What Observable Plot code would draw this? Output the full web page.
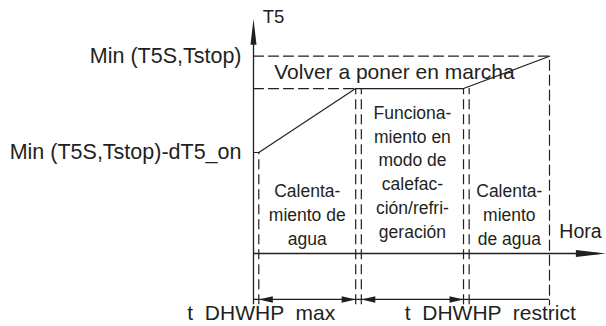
<!DOCTYPE html>
<html><head><meta charset="utf-8">
<script src="https://cdn.jsdelivr.net/npm/d3@7"></script>
<script src="https://cdn.jsdelivr.net/npm/@observablehq/plot@0.6"></script>
<style>
  html,body{margin:0;padding:0;background:#fff}
  svg{display:block}
  svg text{white-space:pre}
</style>
</head><body><div id="chart"></div>
<script>
// ---- time marks along the "Hora" axis (schematic units) ----
const tOrigin = 0;
const tStart = 0.75;               // start of water heating
const tMaxEnd = [14.5, 15.3];      // end of t DHWHP max (double line)
const tRestrictEnd = [29.8, 30.6]; // end of t DHWHP restrict (double line)
const tEnd = 42;                   // end of second water heating
const tAxisEnd = 50;               // tip of time axis

// ---- T5 levels (schematic units) ----
const levelNames = ["Min (T5S,Tstop)-dT5_on", "Min (T5S,Tstop)"];
const levelValues = [5.12, 10];
const levelRestart = 8.36;         // "Volver a poner en marcha" level
const yAxisTop = 11.9;
const dimLevel = -2.33;
const bottomLevel = -2.6;

// ---- T5 curve ----
const curveTimes  = [0, 0.75, 14.5, 29.8, 42];
const curveValues = [5.12, 5.12, 8.36, 8.36, 10];

// ---- texts ----
const axisTitleY = "T5";
const axisTitleX = "Hora";
const restartLabel = "Volver a poner en marcha";
const phaseLabels = [
  "Calenta-\nmiento de\nagua",
  "Funciona-\nmiento en\nmodo de\ncalefac-\nción/refri-\ngeración",
  "Calenta-\nmiento\nde agua"
];
const durationLabels = ["t  DHWHP  max", "t  DHWHP  restrict"];

const ink = "#231f20";
const dash = "10,5";
const headShape = {
  draw(context, l, r) {
    context.moveTo(0, -l);
    context.lineTo(r, 0);
    context.lineTo(-r, 0);
    context.closePath();
  }
};

const curve = curveTimes.map((t, i) => ({t, v: curveValues[i]}));
const verticals = [
  {t: tStart, top: levelValues[0]},
  {t: tMaxEnd[0], top: levelRestart},
  {t: tMaxEnd[1], top: levelRestart},
  {t: tRestrictEnd[0], top: levelRestart},
  {t: tRestrictEnd[1], top: levelRestart}
];
const topDashed = [
  {t: tOrigin, v: levelValues[1]},
  {t: tEnd, v: levelValues[1]},
  {t: tEnd, v: bottomLevel}
];
const restartDashed = [
  {t: tOrigin, v: levelRestart},
  {t: tMaxEnd[0], v: levelRestart}
];
const dimHeads = [
  {t: tStart, rot: -90},
  {t: tMaxEnd[0], rot: 90},
  {t: tMaxEnd[1], rot: -90},
  {t: tRestrictEnd[0], rot: 90}
];
const phases = [
  {t: (tStart + tMaxEnd[0]) / 2, y: 2.03, label: phaseLabels[0]},
  {t: (tMaxEnd[1] + tRestrictEnd[0]) / 2, y: 4.2, label: phaseLabels[1]},
  {t: (tRestrictEnd[1] + tEnd) / 2, y: 2.03, label: phaseLabels[2]}
];

const chart = Plot.plot({
  width: 606,
  height: 326,
  marginLeft: 253,
  marginRight: 57,
  marginTop: 55.7,
  marginBottom: 73,
  x: {domain: [0, 42], axis: null},
  y: {domain: [0, 10], axis: null},
  style: {fontFamily: "'Liberation Sans', Arial, sans-serif", fontSize: "18px", color: ink, background: "#fff"},
  marks: [
    // y tick labels
    Plot.axisY({ticks: levelValues, tickFormat: d => levelNames[levelValues.indexOf(d)], tickSize: 0, tickPadding: 12, label: null, fontSize: 21.5}),
    // axes
    Plot.ruleX([tOrigin], {x: d => d, y1: bottomLevel, y2: yAxisTop - 1, stroke: ink, strokeWidth: 1.3}),
    Plot.vector([tOrigin], {x: d => d, y: yAxisTop, rotate: 0, anchor: "end", length: 26, r: 3, shape: headShape, fill: ink, stroke: "none"}),
    Plot.ruleY([0], {y: d => d, x1: tOrigin, x2: tAxisEnd - 1, stroke: ink, strokeWidth: 1.3}),
    Plot.vector([0], {x: tAxisEnd, y: d => d, rotate: 90, anchor: "end", length: 30, r: 3.5, shape: headShape, fill: ink, stroke: "none"}),
    // dashed guide lines
    Plot.line(topDashed, {x: "t", y: "v", stroke: ink, strokeWidth: 1.2, strokeDasharray: dash}),
    Plot.line(restartDashed, {x: "t", y: "v", stroke: ink, strokeWidth: 1.2, strokeDasharray: dash}),
    Plot.ruleX(verticals, {x: "t", y1: bottomLevel, y2: "top", stroke: ink, strokeWidth: 1.2, strokeDasharray: dash}),
    // T5 curve
    Plot.line(curve, {x: "t", y: "v", stroke: ink, strokeWidth: 1.2}),
    // dimension line
    Plot.ruleY([dimLevel], {y: d => d, x1: tOrigin, x2: tEnd, stroke: ink, strokeWidth: 1.2}),
    Plot.vector(dimHeads, {x: "t", y: dimLevel, rotate: "rot", anchor: "end", length: 14, r: 3.2, shape: headShape, fill: ink, stroke: "none"}),
    // texts
    Plot.text([axisTitleY], {x: 1.3, y: 11.96, text: d => d, textAnchor: "start", fontSize: 18.5}),
    Plot.text([axisTitleX], {x: 46.4, y: 1.12, text: d => d, fontSize: 19.5}),
    Plot.text([restartLabel], {x: 20, y: (levelValues[1] + levelRestart) / 2, text: d => d, fontSize: 21}),
    Plot.text(phases, {x: "t", y: "y", text: "label", fontSize: 17.5, lineHeight: 1.36}),
    Plot.text(durationLabels, {x: (d, i) => [1.1, 33.6][i], y: -3.05, text: d => d, fontSize: 21})
  ]
});
document.getElementById("chart").appendChild(chart);
</script>
</body></html>
